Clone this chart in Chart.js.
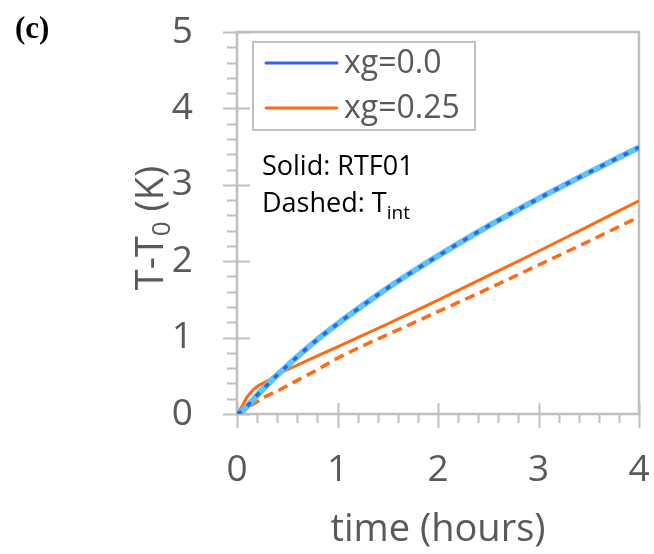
<!DOCTYPE html>
<html lang="en">
<head>
  <meta charset="UTF-8" />
  <title>T-T0 vs time</title>
  <script src="https://cdn.jsdelivr.net/npm/chart.js"></script>
  <style>
    html, body { margin: 0; padding: 0; background: #fff; }
    #wrap { width: 654px; height: 554px; position: relative; }
  </style>
</head>
<body>
  <div id="wrap"><canvas id="tempChart" width="654" height="554"></canvas></div>

  <script>
    // time in hours
    const timeHours = [0, 0.05, 0.1, 0.15, 0.2, 0.3, 0.4, 0.5, 0.6, 0.8, 1.0, 1.25, 1.5, 1.75, 2.0, 2.5, 3.0, 3.5, 4.0];

    // temperature rise T-T0 (K)
    const rtfXg0   = [0, 0.04, 0.10, 0.17, 0.245, 0.38, 0.51, 0.63, 0.75, 0.975, 1.18, 1.42, 1.65, 1.865, 2.07, 2.46, 2.82, 3.16, 3.49];
    const tintXg0  = [0, 0.04, 0.10, 0.17, 0.245, 0.38, 0.51, 0.63, 0.75, 0.975, 1.18, 1.42, 1.65, 1.865, 2.07, 2.46, 2.82, 3.16, 3.49];
    const rtfXg25  = [0, 0.10, 0.22, 0.30, 0.36, 0.43, 0.51, 0.58, 0.64, 0.76, 0.88, 1.03, 1.18, 1.335, 1.49, 1.81, 2.13, 2.46, 2.79];
    const tintXg25 = [0, 0.02, 0.07, 0.12, 0.16, 0.24, 0.30, 0.37, 0.44, 0.58, 0.73, 0.89, 1.04, 1.19, 1.34, 1.64, 1.95, 2.26, 2.58];

    const xTicks = [0, 1, 2, 3, 4];
    const yTicks = [0, 1, 2, 3, 4, 5];
    const legendLabels = ['xg=0.0', 'xg=0.25'];

    const FONT = "'Open Sans', sans-serif";
    const GREY = '#bfbfbf';
    const TEXT = '#595959';
    const BLUE = '#2f62ee';
    const LIGHT_BLUE = '#5ec3f6';
    const ORANGE = '#ff6a13';

    function pts(ys) {
      return timeHours.map((t, i) => ({ x: t, y: ys[i] }));
    }

    // keep the plot box fixed: no extra room for overhanging labels
    function fixBox(size) {
      return s => {
        if (s.isHorizontal()) s.height = size; else s.width = size;
        s.paddingTop = s.paddingBottom = s.paddingLeft = s.paddingRight = 0;
      };
    }

    // frame, crossing major ticks and outside minor ticks
    const framePlugin = {
      id: 'frame',
      beforeDatasetsDraw(chart) {
        const { ctx, chartArea: a, scales: { x, y } } = chart;
        ctx.save();
        ctx.strokeStyle = GREY;
        ctx.lineWidth = 2.5;
        ctx.strokeRect(a.left, a.top, a.right - a.left, a.bottom - a.top);
        ctx.lineWidth = 2;
        ctx.beginPath();
        for (let i = 0; i <= 20; i++) {
          const px = Math.round(x.getPixelForValue(x.min + i * 0.2)) + 0.5;
          if (i % 5 === 0) { ctx.moveTo(px, a.bottom - 11); ctx.lineTo(px, a.bottom + 14); }
          else { ctx.moveTo(px, a.bottom); ctx.lineTo(px, a.bottom + 9); }
        }
        for (let i = 0; i <= 25; i++) {
          const py = Math.round(y.getPixelForValue(y.min + i * 0.2)) + 0.5;
          if (i % 5 === 0) { ctx.moveTo(a.left - 14, py); ctx.lineTo(a.left + 13, py); }
          else { ctx.moveTo(a.left - 10, py); ctx.lineTo(a.left, py); }
        }
        ctx.stroke();
        ctx.restore();
      },
      afterDraw(chart) {
        const { ctx } = chart;
        ctx.save();

        // panel letter
        ctx.fillStyle = '#000';
        ctx.font = "bold 31px 'Liberation Serif', serif";
        ctx.textBaseline = 'alphabetic';
        ctx.fillText('(c)', 15, 38);

        // y-axis title with subscript
        ctx.translate(163, 228);
        ctx.rotate(-Math.PI / 2);
        ctx.fillStyle = TEXT;
        const big = '38px ' + FONT, small = '26px ' + FONT;
        ctx.font = big;
        const w1 = ctx.measureText('T-T').width;
        const w3 = ctx.measureText(' (K)').width;
        ctx.font = small;
        const w2 = ctx.measureText('0').width;
        let cx = -(w1 + w2 + w3) / 2;
        ctx.font = big; ctx.fillText('T-T', cx, 0); cx += w1;
        ctx.font = small; ctx.fillText('0', cx, 7); cx += w2;
        ctx.font = big; ctx.fillText(' (K)', cx, 0);
        ctx.restore();

        // legend box
        ctx.save();
        ctx.fillStyle = '#fff';
        ctx.fillRect(253, 42, 222, 88);
        ctx.strokeStyle = GREY;
        ctx.lineWidth = 2;
        ctx.strokeRect(253, 42, 222, 88);
        const legendColors = [chart.data.datasets[0].borderColor, chart.data.datasets[2].borderColor];
        legendLabels.forEach((lab, i) => {
          const ly = 63 + i * 45;
          ctx.strokeStyle = legendColors[i];
          ctx.lineWidth = 3;
          ctx.lineCap = 'round';
          ctx.beginPath(); ctx.moveTo(266, ly); ctx.lineTo(337, ly); ctx.stroke();
          ctx.fillStyle = TEXT;
          ctx.font = '32px ' + FONT;
          ctx.textBaseline = 'middle';
          ctx.fillText(lab, 344, ly + 1);
        });

        // line style note
        ctx.fillStyle = '#000';
        ctx.textBaseline = 'alphabetic';
        ctx.font = '27px ' + FONT;
        ctx.fillText('Solid: RTF01', 262, 175);
        ctx.fillText('Dashed: T', 262, 212);
        const wd = ctx.measureText('Dashed: T').width;
        ctx.font = '19px ' + FONT;
        ctx.fillText('int', 262 + wd, 219);
        ctx.restore();
      }
    };

    const ctx = document.getElementById('tempChart').getContext('2d');
    new Chart(ctx, {
      type: 'line',
      data: {
        // lower index is drawn on top
        datasets: [
          { label: 'Tint xg=0.0', data: pts(tintXg0), borderColor: BLUE, borderWidth: 3.5, borderDash: [5, 8] },
          { label: 'RTF01 xg=0.0', data: pts(rtfXg0), borderColor: LIGHT_BLUE, borderWidth: 6 },
          { label: 'RTF01 xg=0.25', data: pts(rtfXg25), borderColor: ORANGE, borderWidth: 3 },
          { label: 'Tint xg=0.25', data: pts(tintXg25), borderColor: ORANGE, borderWidth: 3.5, borderDash: [10, 6] }
        ]
      },
      options: {
        responsive: false,
        animation: false,
        events: [],
        elements: {
          point: { radius: 0 },
          line: { cubicInterpolationMode: 'monotone', fill: false }
        },
        layout: { padding: { top: 32, right: 15, left: 0, bottom: 0 } },
        plugins: { legend: { display: false }, tooltip: { enabled: false } },
        scales: {
          x: {
            type: 'linear',
            min: 0,
            max: 4,
            afterFit: fixBox(140),
            afterBuildTicks: s => { s.ticks = xTicks.map(v => ({ value: v })); },
            grid: { display: false, drawTicks: false },
            border: { display: false },
            ticks: { color: TEXT, font: { family: FONT, size: 37 }, padding: 34, maxRotation: 0 },
            title: { display: true, text: 'time (hours)', color: TEXT, font: { family: FONT, size: 38 }, padding: { top: 0, bottom: 1 } }
          },
          y: {
            min: 0,
            max: 5,
            afterFit: fixBox(237),
            afterBuildTicks: s => { s.ticks = yTicks.map(v => ({ value: v })); },
            grid: { display: false, drawTicks: false },
            border: { display: false },
            ticks: { color: TEXT, font: { family: FONT, size: 37 }, padding: 44 }
          }
        }
      },
      plugins: [framePlugin]
    });
  </script>
</body>
</html>
